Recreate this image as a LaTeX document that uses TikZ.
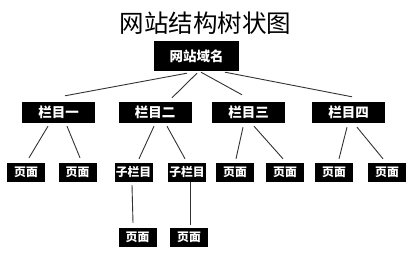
\documentclass[tikz,border=0pt]{standalone}
\usepackage{fontspec}
\newfontfamily\cjk{Noto Sans CJK SC}
\usetikzlibrary{positioning}
\tikzset{
  yuming/.style={rectangle,fill=black,text=white,inner sep=0pt,
    minimum width=85pt,minimum height=30pt,
    font=\cjk\bfseries\fontsize{13.5}{13.5}\selectfont},
  lanmu/.style={rectangle,fill=black,text=white,inner sep=0pt,
    minimum width=73pt,minimum height=21pt,
    font=\cjk\bfseries\fontsize{13.5}{13.5}\selectfont},
  yemian/.style={rectangle,fill=black,text=white,inner sep=0pt,
    minimum width=38pt,minimum height=19pt,
    font=\cjk\bfseries\fontsize{11.8}{11.8}\selectfont},
  lianxian/.style={draw=black!80,line width=0.9pt}
}
\begin{document}
\begin{tikzpicture}[x=1pt,y=-1pt]
\useasboundingbox[fill=white] (0,0) rectangle (411,261);

% 1. Titulo y dominio
\node[font=\cjk\fontsize{24.5}{24.5}\selectfont] (titulo) at (205.5,23) {网站结构树状图};
\node[yuming] (dominio) at (196.5,56) {网站域名};

% 2. Columnas
\node[lanmu] (col1) at (58.5,112.5) {栏目一};
\node[lanmu] (col2) at (155,112.5) {栏目二};
\node[lanmu] (col3) at (248.5,112.5) {栏目三};
\node[lanmu] (col4) at (348.5,112.5) {栏目四};

\draw[lianxian] ([xshift=-9.5pt,yshift=-2pt]dominio.south)--([xshift=6.5pt,yshift=6pt]col1.north);
\draw[lianxian] ([xshift=0.5pt,yshift=-2pt]dominio.south)--([xshift=17pt,yshift=4pt]col2.north);
\draw[lianxian] ([xshift=4.5pt,yshift=-1pt]dominio.south)--([xshift=-6.5pt,yshift=7pt]col3.north);
\draw[lianxian] ([xshift=28.5pt,yshift=-1pt]dominio.south)--([xshift=3.5pt,yshift=5pt]col4.north);

% 3. Paginas y subcolumnas
\node[yemian] (pag1) at (26,172.5) {页面};
\node[yemian] (pag2) at (77.5,172.5) {页面};
\node[yemian] (sub1) at (133.5,172.5) {子栏目};
\node[yemian] (sub2) at (187,172.5) {子栏目};
\node[yemian] (pag3) at (235,172.5) {页面};
\node[yemian] (pag4) at (285,172.5) {页面};
\node[yemian] (pag5) at (334,172.5) {页面};
\node[yemian] (pag6) at (387,172.5) {页面};

\draw[lianxian] ([xshift=-10.5pt,yshift=-3pt]col1.south)--([xshift=3pt,yshift=5pt]pag1.north);
\draw[lianxian] ([xshift=8.5pt,yshift=-3pt]col1.south)--([xshift=2.5pt,yshift=5pt]pag2.north);
\draw[lianxian] ([xshift=-1pt,yshift=-3pt]col2.south)--([xshift=5.5pt,yshift=4pt]sub1.north);
\draw[lianxian] ([xshift=12pt,yshift=-3pt]col2.south)--([xshift=-2pt,yshift=4pt]sub2.north);
\draw[lianxian] ([xshift=-5.5pt,yshift=-4pt]col3.south)--([xshift=1pt,yshift=4pt]pag3.north);
\draw[lianxian] ([xshift=5.5pt,yshift=-3pt]col3.south)--([xshift=-2pt,yshift=4pt]pag4.north);
\draw[lianxian] ([xshift=-1.5pt,yshift=-4pt]col4.south)--([xshift=5pt,yshift=4pt]pag5.north);
\draw[lianxian] ([xshift=8.5pt,yshift=-4pt]col4.south)--([xshift=-4pt,yshift=4pt]pag6.north);

% 4. Paginas de las subcolumnas
\node[yemian] (pag7) at (137.5,237.5) {页面};
\node[yemian] (pag8) at (189,237.5) {页面};

\draw[lianxian] ([xshift=-1.5pt,yshift=-3pt]sub1.south)--([xshift=-4.5pt,yshift=5pt]pag7.north);
\draw[lianxian] ([xshift=3pt]sub2.south)--([xshift=1pt,yshift=3pt]pag8.north);

\end{tikzpicture}
\end{document}
